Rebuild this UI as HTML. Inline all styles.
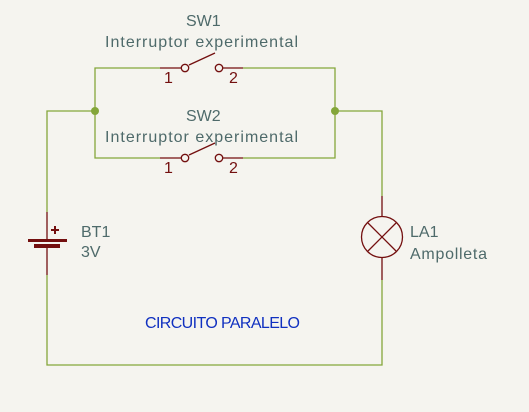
<!DOCTYPE html>
<html><head><meta charset="utf-8"><style>
html,body{margin:0;padding:0;background:#f5f4ef;}
svg{display:block}
text{font-family:"Liberation Sans","DejaVu Sans",sans-serif;font-size:16px;}
</style></head><body>
<svg width="529" height="412" viewBox="0 0 529 412" xmlns="http://www.w3.org/2000/svg">
<rect width="529" height="412" fill="#f5f4ef"/>
<g stroke="#84a63a" stroke-width="1.3" fill="none">
<polyline points="160,68 95,68 95,158 160,158"/>
<polyline points="243,68 335,68 335,158 243,158"/>
<polyline points="95,111 47,111 47,212"/>
<polyline points="335,111 382,111 382,196"/>
<polyline points="47,275 47,365 382,365 382,280"/>
</g>
<g fill="#84a63a"><circle cx="95" cy="111" r="4"/><circle cx="335" cy="111" r="4"/></g>
<g stroke="#730f0f" stroke-width="1.3" fill="none">
<line x1="160" y1="68" x2="181" y2="68"/><circle cx="185" cy="68" r="3.7"/>
<line x1="189" y1="65" x2="215" y2="53"/><circle cx="219" cy="68" r="3.7"/>
<line x1="223" y1="68" x2="243" y2="68"/>
<line x1="160" y1="158" x2="181" y2="158"/><circle cx="185" cy="158" r="3.7"/>
<line x1="189" y1="155" x2="215" y2="143"/><circle cx="219" cy="158" r="3.7"/>
<line x1="223" y1="158" x2="243" y2="158"/>
<line x1="47" y1="212" x2="47" y2="240"/><line x1="47" y1="246" x2="47" y2="275"/>
<line x1="382" y1="196" x2="382" y2="217"/><line x1="382" y1="258" x2="382" y2="280"/>
<circle cx="382" cy="237" r="20.5"/>
<line x1="368" y1="223" x2="396" y2="251"/><line x1="396" y1="223" x2="368" y2="251"/>
</g>
<g fill="#730f0f">
<rect x="28" y="239" width="39" height="3"/><rect x="34" y="244" width="26" height="4"/>
<rect x="54" y="226" width="2" height="8"/><rect x="51" y="229" width="8" height="2"/>
</g>
<g fill="#730f0f" style="font-size:16px">
<text x="164" y="83">1</text><text x="229" y="83">2</text>
<text x="164" y="173">1</text><text x="229" y="173">2</text>
</g>
<g fill="#4e6a6a">
<text x="186" y="26">SW1</text>
<text x="105" y="47" textLength="193" lengthAdjust="spacing">Interruptor experimental</text>
<text x="186" y="121">SW2</text>
<text x="105" y="142" textLength="193" lengthAdjust="spacing">Interruptor experimental</text>
<text x="81" y="237">BT1</text>
<text x="81" y="257">3V</text>
<text x="410" y="237">LA1</text>
<text x="410" y="259" textLength="77" lengthAdjust="spacing">Ampolleta</text>
</g>
<text x="145" y="328" fill="#1030c0" textLength="155" lengthAdjust="spacing">CIRCUITO PARALELO</text>
</svg>
</body></html>
